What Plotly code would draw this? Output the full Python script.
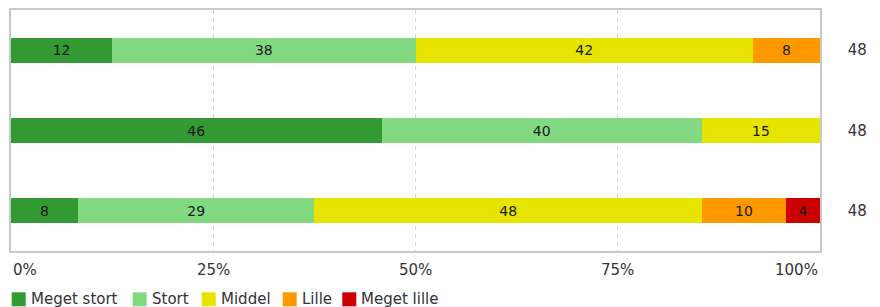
import plotly.graph_objects as go

# Data (percent of respondents per row)
rows = ["Række 1", "Række 2", "Række 3"]
n_labels = ["48", "48", "48"]
series_names = ["Meget stort", "Stort", "Middel", "Lille", "Meget lille"]
meget_stort = [12.5, 45.8, 8.3]
stort = [37.5, 39.6, 29.2]
middel = [41.7, 14.6, 47.9]
lille = [8.3, 0.0, 10.4]
meget_lille = [0.0, 0.0, 4.2]
tick_vals = [0, 25, 50, 75, 100]
tick_labels = ["0%", "25%", "50%", "75%", "100%"]

colors = ["#339933", "#82d982", "#e6e400", "#ff9900", "#cc0000"]
series = [meget_stort, stort, middel, lille, meget_lille]

# page is offset by the 8px default body margin -> figure is 872x299
W, H = 872, 299
ML, MR, MT, MB = 3, 60, 2, 56
PW, PH = W - ML - MR, H - MT - MB
FONT = "DejaVu Sans"


def px_x(px):
    return (px - ML) / PW


def px_y(py):
    return (H - MB - py) / PH


fig = go.Figure()
for name, vals, col in zip(series_names, series, colors):
    texts = [str(round(v)) if v > 0 else "" for v in vals]
    fig.add_trace(go.Bar(
        y=rows, x=vals, name=name, orientation="h",
        marker=dict(color=col, line=dict(width=0)),
        text=texts, textposition="inside", insidetextanchor="middle",
        textangle=0, constraintext="none",
        textfont=dict(family=FONT, size=14, color="#1a1a1a"),
        hoverinfo="skip", showlegend=False,
    ))

shapes, annotations = [], []

# x tick labels: first left-aligned, last right-aligned, others centred
for i, (tv, tl) in enumerate(zip(tick_vals, tick_labels)):
    anchor = "left" if i == 0 else ("right" if i == len(tick_vals) - 1 else "center")
    annotations.append(dict(
        text=tl, xref="x", yref="paper", x=tv, y=px_y(262),
        xanchor=anchor, yanchor="middle", showarrow=False,
        font=dict(family=FONT, size=15, color="#333333"),
    ))

# legend drawn as swatches + labels below the plot
swatch_left_px = [3.7, 124.7, 193.7, 274.7, 334.3]
SW = 14
sw_top, sw_bot = 284.3, 298.3
for name, col, sx in zip(series_names, colors, swatch_left_px):
    shapes.append(dict(
        type="rect", xref="paper", yref="paper",
        x0=px_x(sx), x1=px_x(sx + SW), y0=px_y(sw_bot), y1=px_y(sw_top),
        fillcolor=col, line=dict(width=0), layer="above",
    ))
    annotations.append(dict(
        text=name, xref="paper", yref="paper",
        x=px_x(sx + SW + 3), y=px_y((sw_top + sw_bot) / 2),
        xanchor="left", yanchor="middle", showarrow=False,
        font=dict(family=FONT, size=15, color="#333333"),
    ))

fig.update_layout(
    barmode="stack",
    bargap=0.69,
    width=W, height=H,
    margin=dict(l=ML, r=MR, t=MT, b=MB, autoexpand=False),
    plot_bgcolor="white", paper_bgcolor="white",
    font=dict(family=FONT, size=15, color="#333333"),
    showlegend=False,
    shapes=shapes, annotations=annotations,
    xaxis=dict(
        range=[0, 100], tickvals=tick_vals, showticklabels=False,
        showgrid=True, gridcolor="#d4d4d4", griddash="4px,4px", gridwidth=1,
        showline=True, linecolor="#c8c8c8", linewidth=1.5, mirror=True,
        zeroline=False, ticks="", automargin=False,
        fixedrange=True,
    ),
    yaxis=dict(
        type="category", categoryorder="array", categoryarray=rows,
        autorange="reversed",
        tickvals=rows, ticktext=n_labels, side="right",
        showgrid=False, showline=True, linecolor="#c8c8c8", linewidth=1.5,
        mirror=True, ticks="", ticklabelstandoff=23,
        ticklabeloverflow="allow", automargin=False,
        tickfont=dict(family=FONT, size=15, color="#333333"),
        fixedrange=True,
    ),
)

fig.write_html("out.html")
